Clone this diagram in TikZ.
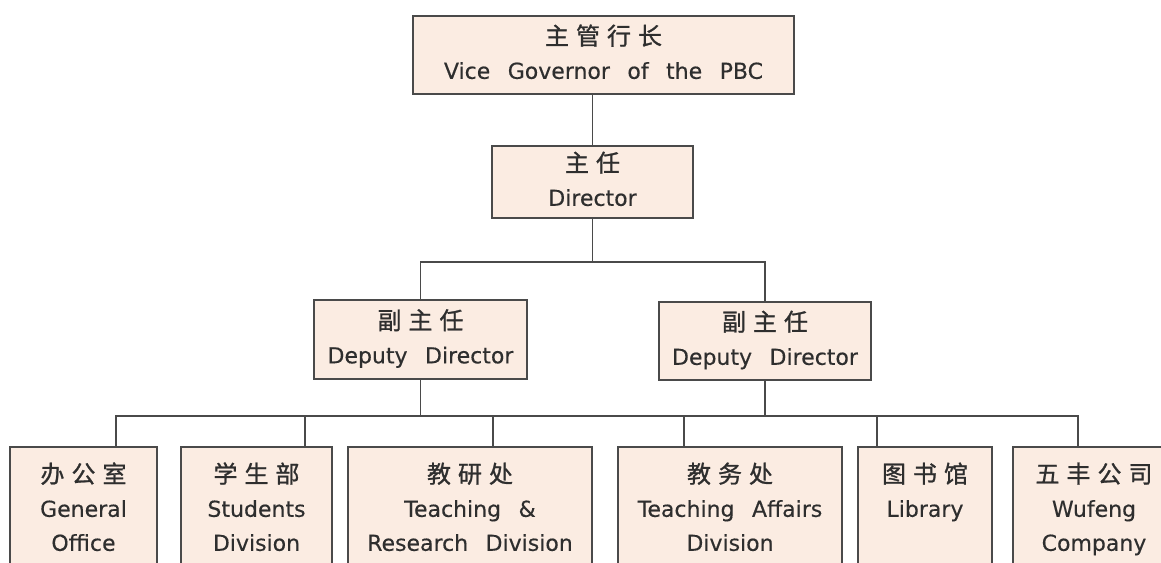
\documentclass[tikz,border=0pt]{standalone}
\usepackage{fontspec}
\setmainfont{DejaVu Sans}[WordSpace=2.5,FakeBold=0.3]
\newfontfamily\cjk{Noto Sans CJK SC}[FakeBold=1]
\newcommand\gap{\hspace{7pt}}
\newcommand\zh[1]{{\cjk\fontsize{24}{34}\selectfont #1}}
\definecolor{boxfill}{HTML}{FBECE2}
\definecolor{linec}{HTML}{4A4A4A}
\definecolor{txt}{HTML}{2E2E2E}
\tikzset{
  orgbox/.style={draw=linec, fill=boxfill, line width=1.3pt, inner sep=0pt,
    align=center, text=txt, font=\fontsize{22}{34}\selectfont},
  link/.style={draw=linec, line width=1.2pt}
}
\begin{document}
\begin{tikzpicture}[x=1pt,y=-1pt]
\useasboundingbox (0,0) rectangle (1161,562);
\fill[white] (0,0) rectangle (1161,562);
\begin{scope}
\clip (0,0) rectangle (1161,562);
% boxes
\node[orgbox, minimum width=381pt, minimum height=78pt] (top) at (603.5,55)
  {\zh{主\gap 管\gap 行\gap 长}\strut\\Vice Governor of the PBC\strut};
\node[orgbox, minimum width=201pt, minimum height=72pt] (dir) at (592.5,182)
  {\zh{主\gap 任}\strut\\Director\strut};
\node[orgbox, minimum width=213pt, minimum height=79pt] (dL) at (420.5,339.5)
  {\zh{副\gap 主\gap 任}\strut\\Deputy Director\strut};
\node[orgbox, minimum width=212pt, minimum height=78pt] (dR) at (765,341)
  {\zh{副\gap 主\gap 任}\strut\\Deputy Director\strut};
\node[orgbox, minimum width=147pt, minimum height=126pt] (b1) at (83.5,510)
  {\zh{办\gap 公\gap 室}\strut\\General\strut\\Office\strut};
\node[orgbox, minimum width=151pt, minimum height=126pt] (b2) at (256.5,510)
  {\zh{学\gap 生\gap 部}\strut\\Students\strut\\Division\strut};
\node[orgbox, minimum width=244pt, minimum height=126pt] (b3) at (470,510)
  {\zh{教\gap 研\gap 处}\strut\\Teaching \&\strut\\Research Division\strut};
\node[orgbox, minimum width=224pt, minimum height=126pt] (b4) at (730,510)
  {\zh{教\gap 务\gap 处}\strut\\Teaching Affairs\strut\\Division\strut};
\node[orgbox, minimum width=134pt, minimum height=126pt] (b5) at (925,510)
  {\zh{图\gap 书\gap 馆}\strut\\Library\strut\\\strut};
\node[orgbox, minimum width=162pt, minimum height=126pt] (b6) at (1094,510)
  {\zh{五\gap 丰\gap 公\gap 司}\strut\\Wufeng\strut\\Company\strut};
% junction coordinates
\coordinate (j1) at (592.5,262);
\coordinate (t1) at (116,416);
\coordinate (t2) at (305,416);
\coordinate (t3) at (493,416);
\coordinate (t4) at (684,416);
\coordinate (t5) at (877,416);
\coordinate (t6) at (1078,416);
% connectors
\draw[link] (dir.north |- top.south) -- (dir.north);
\draw[link] (dir.south) -- (j1);
\draw[link] (dL.north) -- (dL.north |- j1) -- (dR.north |- j1) -- (dR.north);
\draw[link] (dL.south) -- (dL.south |- t1);
\draw[link] (dR.south) -- (dR.south |- t1);
\draw[link] (t1 |- b1.north) -- (t1) -- (t6) -- (t6 |- b6.north);
\draw[link] (t2) -- (t2 |- b2.north);
\draw[link] (t3) -- (t3 |- b3.north);
\draw[link] (t4) -- (t4 |- b4.north);
\draw[link] (t5) -- (t5 |- b5.north);
\end{scope}
\end{tikzpicture}
\end{document}
